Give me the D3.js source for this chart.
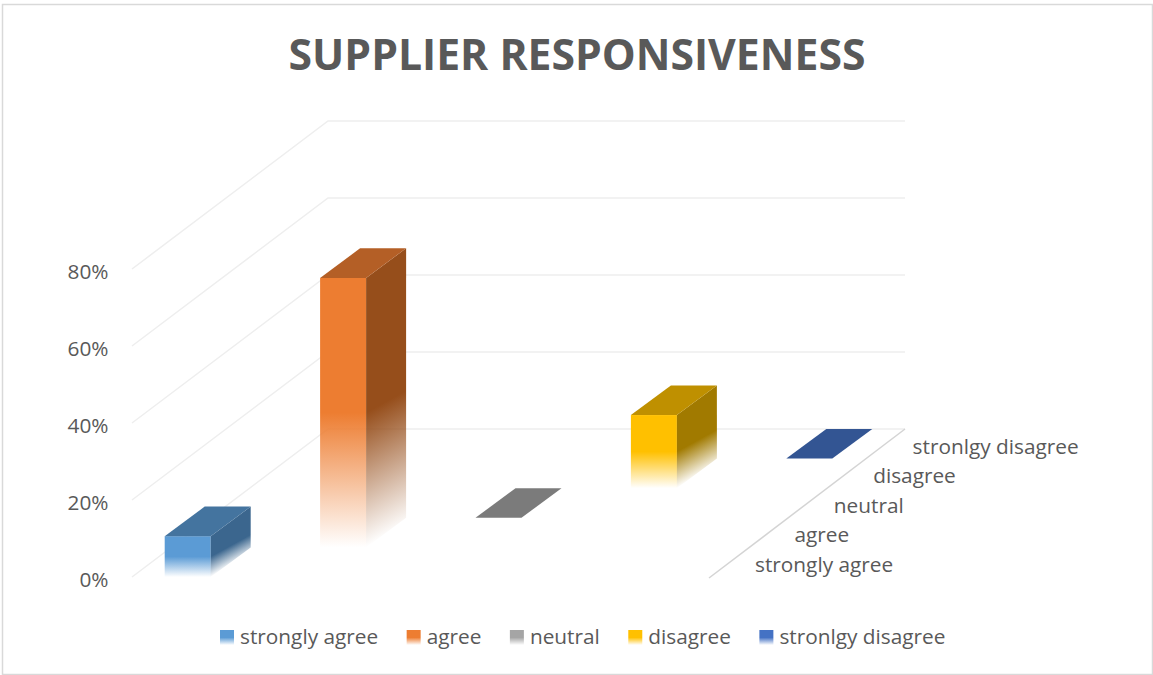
<!DOCTYPE html>
<html><head><meta charset="utf-8">
<script src="https://cdn.jsdelivr.net/npm/d3@7"></script>
<style>html,body{margin:0;padding:0;background:#fff}svg{display:block}text{font-family:"Open Sans",sans-serif;fill:#595959}</style>
</head><body><svg id="c" width="1153" height="675"></svg>
<script>
const title = "SUPPLIER RESPONSIVENESS";
const categories = ["strongly agree","agree","neutral","disagree","stronlgy disagree"];
const values = [0.106,0.70,0,0.19,0];
const yTicks = [0,0.2,0.4,0.6,0.8];
const frontColors = ["#5b9bd5","#ed7d31","#a5a5a5","#ffc000","#4472c4"];
const topColors = ["#44749f","#b45f26","#7b7b7b","#bf9000","#335593"];
const sideColors = ["#3b668e","#964e1b","#6e6e6e","#a17a00","#2b4a7d"];

const W=1153,H=675;
const svg=d3.select("#c");
const defs=svg.append("defs");
const FS=20.8;

// Chart frame
svg.append("rect").attr("x",2.5).attr("y",4.5).attr("width",W-3).attr("height",H-5)
  .attr("fill","#fff").attr("stroke","#d9d9d9").attr("stroke-width",1.5);

// Scales
const y=d3.scaleLinear().domain([0,0.8]).range([577,269]);
const x=d3.scaleBand().domain(categories).range([131,712]);
const depth=d3.scaleLinear().domain([0,categories.length]);
const dx=depth.copy().range([0,196]);   // horizontal shift of the depth axis
const dy=depth.copy().range([0,-148]);  // vertical shift of the depth axis
const barW=46;
const floorLeft=132, floorRight=709;

// Gridlines: side wall + back wall
const grid=svg.append("g").attr("fill","none").attr("stroke","#eeeeee").attr("stroke-width",1.5);
yTicks.forEach(t=>{
  const bx=floorLeft+dx(5), by=y(t)+dy(5);
  grid.append("path").attr("d",`M${floorLeft},${y(t)}L${bx},${by}L${floorRight+dx(5)},${by}`);
});
// Floor right edge
svg.append("line").attr("x1",floorRight).attr("y1",y(0)+1).attr("x2",floorRight+dx(5)).attr("y2",y(0)+dy(5))
  .attr("stroke","#d4d4d4").attr("stroke-width",1.5);

// Y axis
const axis=svg.append("g").attr("transform","translate(108.5,3)")
  .call(d3.axisLeft(y).tickValues(yTicks).tickSize(0).tickPadding(0).tickFormat(d3.format(".0%")));
axis.select(".domain").remove();
axis.selectAll("text").attr("font-size",FS).style("font-family",'"Open Sans",sans-serif').attr("fill","#595959");

function fadeGrad(id,color,p0,p1){
  const g=defs.append("linearGradient").attr("id",id).attr("gradientUnits","userSpaceOnUse")
    .attr("x1",p0[0]).attr("y1",p0[1]).attr("x2",p1[0]).attr("y2",p1[1]);
  g.append("stop").attr("offset","50%").attr("stop-color",color);
  g.append("stop").attr("offset","100%").attr("stop-color",color).attr("stop-opacity",0);
}

// Bars
const bars=svg.append("g");
categories.forEach((c,i)=>{
  const v=values[i];
  const xl=x(c)+x.bandwidth()/2-barW/2+dx(i)-1.4, xr=xl+barW;
  const yb=y(0)+dy(i), yt=y(v)+dy(i);
  const ox=dx(1)+0.8, oy=dy(1);
  if(v>0){
    fadeGrad("f"+i,frontColors[i],[xl,yt],[xl,yb]);
    bars.append("rect").attr("x",xl).attr("y",yt).attr("width",barW).attr("height",yb-yt).attr("fill",`url(#f${i})`);
    const sl=22, len=Math.hypot(ox,sl), nx=sl/len, ny=ox/len;
    const L=(yb-yt)*ny;
    fadeGrad("s"+i,sideColors[i],[xr,yt],[xr+nx*L,yt+ny*L]);
    bars.append("path").attr("d",`M${xr},${yt}L${xr+ox},${yt+oy}L${xr+ox},${yb+oy}L${xr},${yb}Z`).attr("fill",`url(#s${i})`);
  }
  bars.append("path").attr("d",`M${xl},${yt}L${xl+ox},${yt+oy}L${xr+ox},${yt+oy}L${xr},${yt}Z`).attr("fill",topColors[i]);
});

// Depth axis labels
svg.append("g").selectAll("text").data(categories).join("text")
  .attr("x",(d,i)=>755+dx(i)+i*0.2).attr("y",(d,i)=>572+dy(i)).attr("font-size",FS).text(d=>d);

// Title
svg.append("text").attr("x",577).attr("y",69.5).attr("text-anchor","middle")
  .attr("font-size",42.7).attr("font-weight",700).text(title);

// Legend
categories.forEach((c,i)=>{
  defs.append("linearGradient").attr("id","l"+i).attr("x1",0).attr("y1",0).attr("x2",0).attr("y2",1)
    .call(g=>{g.append("stop").attr("offset","50%").attr("stop-color",frontColors[i]);
      g.append("stop").attr("offset","100%").attr("stop-color",frontColors[i]).attr("stop-opacity",0);});
});
let lx=220;
const leg=svg.append("g");
categories.forEach((c,i)=>{
  leg.append("rect").attr("x",lx).attr("y",630).attr("width",14).attr("height",15).attr("fill",`url(#l${i})`);
  const t=leg.append("text").attr("x",lx+20).attr("y",644).attr("font-size",FS).text(c);
  lx+=20+t.node().getComputedTextLength()+28.5;
});
</script></body></html>
